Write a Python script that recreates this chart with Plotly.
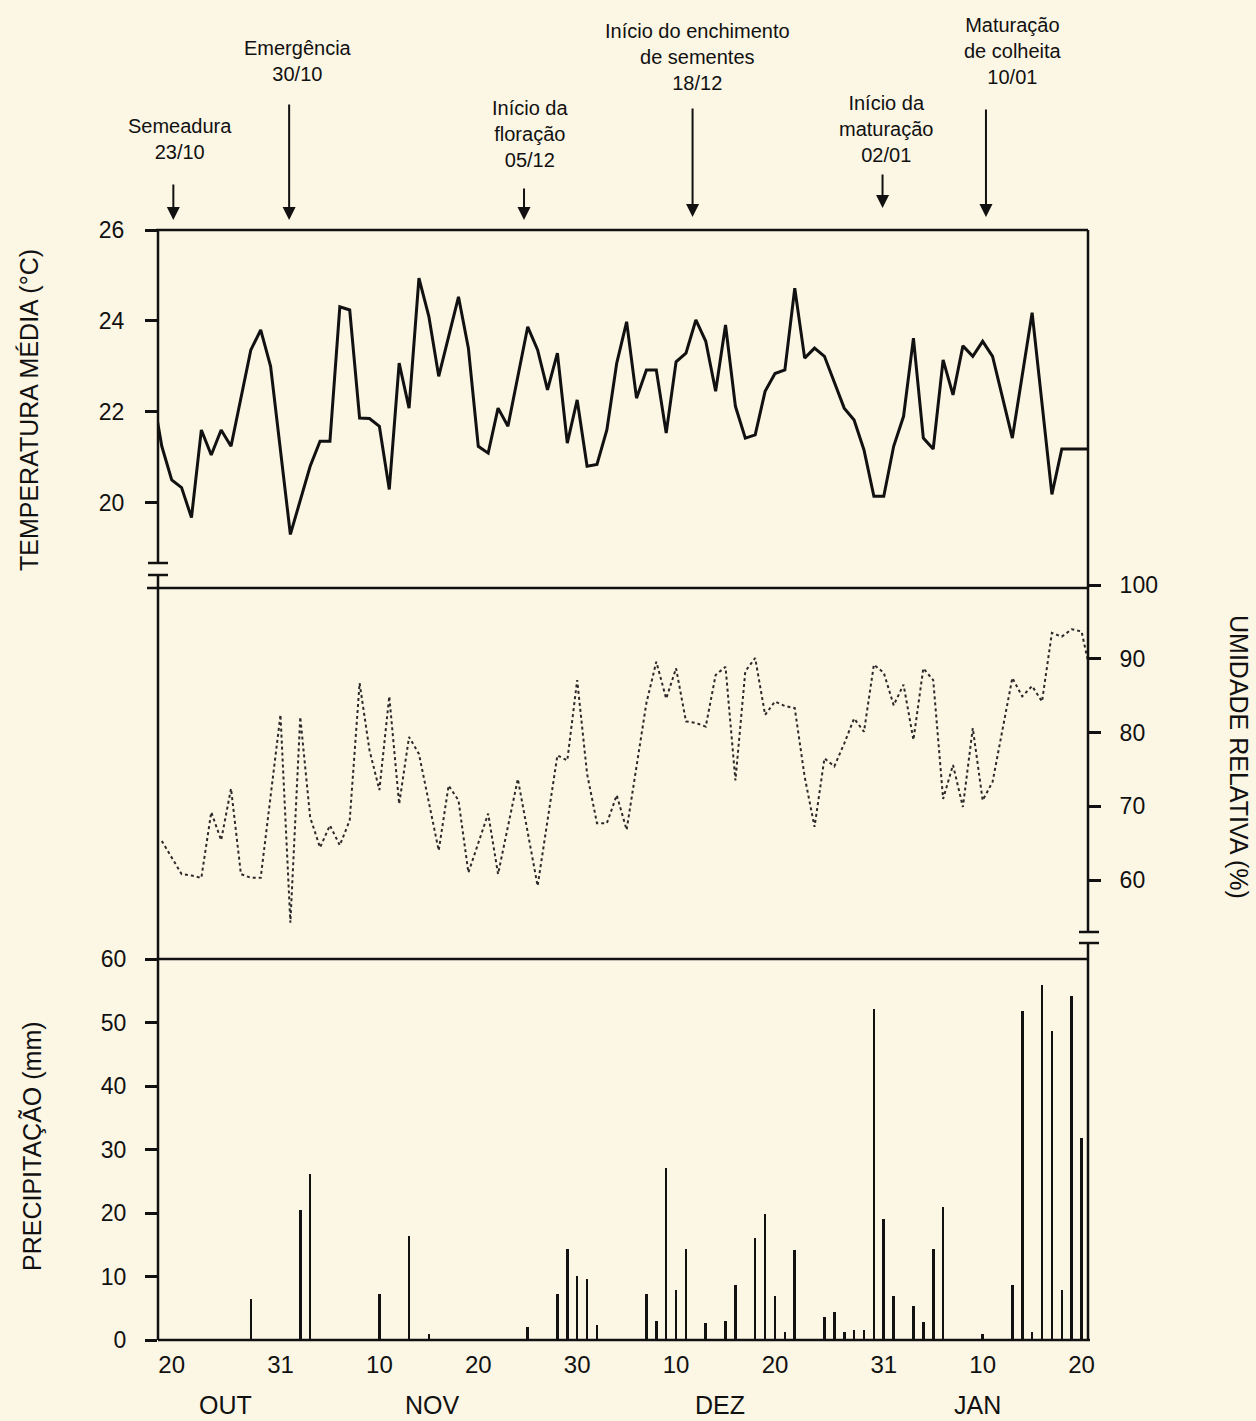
import plotly.graph_objects as go

W, H = 1256, 1421
FONT = "Liberation Sans, Arial, Helvetica, sans-serif"
BG = "#FCF6E4"

# ---------------- data ----------------
temp_dates = ["1996-10-18", "1996-10-19", "1996-10-20", "1996-10-21", "1996-10-22", "1996-10-23",
              "1996-10-24", "1996-10-25", "1996-10-26", "1996-10-28", "1996-10-29", "1996-10-30",
              "1996-11-01", "1996-11-03", "1996-11-04", "1996-11-05", "1996-11-06", "1996-11-07",
              "1996-11-08", "1996-11-09", "1996-11-10", "1996-11-11", "1996-11-12", "1996-11-13",
              "1996-11-14", "1996-11-15", "1996-11-16", "1996-11-18", "1996-11-19", "1996-11-20",
              "1996-11-21", "1996-11-22", "1996-11-23", "1996-11-25", "1996-11-26", "1996-11-27",
              "1996-11-28", "1996-11-29", "1996-11-30", "1996-12-01", "1996-12-02", "1996-12-03",
              "1996-12-04", "1996-12-05", "1996-12-06", "1996-12-07", "1996-12-08", "1996-12-09",
              "1996-12-10", "1996-12-11", "1996-12-12", "1996-12-13", "1996-12-14", "1996-12-15",
              "1996-12-16", "1996-12-17", "1996-12-18", "1996-12-19", "1996-12-20", "1996-12-21",
              "1996-12-22", "1996-12-23", "1996-12-24", "1996-12-25", "1996-12-27", "1996-12-28",
              "1996-12-29", "1996-12-30", "1996-12-31", "1997-01-01", "1997-01-02", "1997-01-03",
              "1997-01-04", "1997-01-05", "1997-01-06", "1997-01-07", "1997-01-08", "1997-01-09",
              "1997-01-10", "1997-01-11", "1997-01-13", "1997-01-15", "1997-01-17", "1997-01-18",
              "1997-01-19", "1997-01-20", "1997-01-21"]
temp_values = [22.5, 21.24, 20.5, 20.33, 19.67, 21.6,
               21.05, 21.6, 21.24, 23.36, 23.8, 23.0,
               19.3, 20.8, 21.35, 21.35, 24.31, 24.24,
               21.86, 21.85, 21.68, 20.29, 23.07, 22.08,
               24.94, 24.1, 22.78, 24.53, 23.4, 21.24,
               21.09, 22.08, 21.68, 23.87, 23.36, 22.48,
               23.29, 21.31, 22.26, 20.8, 20.84, 21.6,
               23.07, 23.98, 22.3, 22.92, 22.92, 21.53,
               23.1, 23.29, 24.02, 23.55, 22.45, 23.91,
               22.12, 21.42, 21.49, 22.45, 22.84, 22.92,
               24.72, 23.18, 23.4, 23.22, 22.08, 21.82,
               21.16, 20.14, 20.14, 21.24, 21.9, 23.62,
               21.42, 21.18, 23.14, 22.37, 23.45, 23.22,
               23.55, 23.22, 21.42, 24.18, 20.18, 21.18,
               21.18, 21.18, 21.18]

hum_dates = ["1996-10-19", "1996-10-21", "1996-10-22", "1996-10-23", "1996-10-24", "1996-10-25",
             "1996-10-26", "1996-10-27", "1996-10-28", "1996-10-29", "1996-10-31", "1996-11-01",
             "1996-11-02", "1996-11-03", "1996-11-04", "1996-11-05", "1996-11-06", "1996-11-07",
             "1996-11-08", "1996-11-09", "1996-11-10", "1996-11-11", "1996-11-12", "1996-11-13",
             "1996-11-14", "1996-11-16", "1996-11-17", "1996-11-18", "1996-11-19", "1996-11-21",
             "1996-11-22", "1996-11-24", "1996-11-26", "1996-11-28", "1996-11-29", "1996-11-30",
             "1996-12-01", "1996-12-02", "1996-12-03", "1996-12-04", "1996-12-05", "1996-12-07",
             "1996-12-08", "1996-12-09", "1996-12-10", "1996-12-11", "1996-12-12", "1996-12-13",
             "1996-12-14", "1996-12-15", "1996-12-16", "1996-12-17", "1996-12-18", "1996-12-19",
             "1996-12-20", "1996-12-21", "1996-12-22", "1996-12-23", "1996-12-24", "1996-12-25",
             "1996-12-26", "1996-12-27", "1996-12-28", "1996-12-29", "1996-12-30", "1996-12-31",
             "1997-01-01", "1997-01-02", "1997-01-03", "1997-01-04", "1997-01-05", "1997-01-06",
             "1997-01-07", "1997-01-08", "1997-01-09", "1997-01-10", "1997-01-11", "1997-01-13",
             "1997-01-14", "1997-01-15", "1997-01-16", "1997-01-17", "1997-01-18", "1997-01-19",
             "1997-01-20", "1997-01-21"]
hum_values = [65.3, 60.8, 60.6, 60.3, 69.2, 65.4,
              72.4, 60.8, 60.3, 60.3, 82.4, 54.2,
              82.1, 68.5, 64.4, 67.4, 64.7, 68.1,
              86.7, 77.6, 72.2, 84.9, 70.3, 79.4,
              77.1, 64.0, 72.8, 70.8, 61.0, 69.0,
              60.8, 73.7, 59.2, 76.9, 76.2, 87.1,
              74.4, 67.7, 67.7, 71.5, 66.8, 84.0,
              89.6, 84.6, 88.7, 81.5, 81.3, 80.8,
              87.8, 88.9, 73.5, 88.3, 90.1, 82.4,
              84.2, 83.6, 83.3, 74.0, 67.2, 76.5,
              75.4, 78.5, 81.9, 80.1, 89.2, 88.1,
              83.7, 86.5, 79.0, 88.7, 87.1, 71.0,
              75.6, 69.9, 80.6, 70.8, 73.3, 87.4,
              84.9, 86.3, 84.2, 93.5, 93.0, 94.0,
              93.7, 87.5]

rain_dates = ["1996-10-28", "1996-11-02", "1996-11-03", "1996-11-10", "1996-11-13", "1996-11-15",
              "1996-11-25", "1996-11-28", "1996-11-29", "1996-11-30", "1996-12-01", "1996-12-02",
              "1996-12-07", "1996-12-08", "1996-12-09", "1996-12-10", "1996-12-11", "1996-12-13",
              "1996-12-15", "1996-12-16", "1996-12-18", "1996-12-19", "1996-12-20", "1996-12-21",
              "1996-12-22", "1996-12-25", "1996-12-26", "1996-12-27", "1996-12-28", "1996-12-29",
              "1996-12-30", "1996-12-31", "1997-01-01", "1997-01-03", "1997-01-04", "1997-01-05",
              "1997-01-06", "1997-01-10", "1997-01-13", "1997-01-14", "1997-01-15", "1997-01-16",
              "1997-01-17", "1997-01-18", "1997-01-19", "1997-01-20"]
rain_values = [6.4, 20.4, 26.1, 7.2, 16.4, 1.0,
               2.1, 7.2, 14.4, 10.1, 9.6, 2.3,
               7.3, 3.0, 27.1, 7.9, 14.3, 2.6,
               3.0, 8.6, 16.0, 19.9, 6.9, 1.2,
               14.1, 3.7, 4.4, 1.3, 1.6, 1.6,
               52.2, 19.0, 7.0, 5.4, 2.8, 14.4,
               20.9, 1.0, 8.7, 51.8, 1.3, 55.9,
               48.7, 7.9, 54.2, 31.8]

x_tick_dates = ["1996-10-20", "1996-10-31", "1996-11-10", "1996-11-20", "1996-11-30",
                "1996-12-10", "1996-12-20", "1996-12-31", "1997-01-10", "1997-01-20"]
x_tick_labels = ["20", "31", "10", "20", "30", "10", "20", "31", "10", "20"]
month_labels = ["OUT", "NOV", "DEZ", "JAN"]

temp_ticks = [20, 22, 24, 26]
hum_ticks = [60, 70, 80, 90, 100]
rain_ticks = [0, 10, 20, 30, 40, 50, 60]

stage_names = ["Semeadura", "Emergência", "Início da<br>floração", "Início do enchimento<br>de sementes",
               "Início da<br>maturação", "Maturação<br>de colheita"]
stage_dates = ["23/10", "30/10", "05/12", "18/12", "02/01", "10/01"]

# ---------------- layout helpers (pixel -> paper) ----------------
def px(x):
    return x / W

def py(y):
    return 1 - y / H

L, R = 158, 1088
T_TOP, SEP1, SEP2, BOT = 230, 588, 959, 1340

fig = go.Figure()
fig.add_trace(go.Scatter(x=temp_dates, y=temp_values, mode="lines",
                         line=dict(color="#111111", width=3), xaxis="x", yaxis="y",
                         hoverinfo="skip"))
fig.add_trace(go.Scatter(x=hum_dates, y=hum_values, mode="lines",
                         line=dict(color="#2a2a2a", width=2, dash="dot"), xaxis="x", yaxis="y2",
                         hoverinfo="skip"))
fig.add_trace(go.Bar(x=rain_dates, y=rain_values, width=0.26 * 86400000,
                     marker=dict(color="#111111", line=dict(width=0)), xaxis="x", yaxis="y3",
                     hoverinfo="skip"))

axis_common = dict(showgrid=False, zeroline=False, showline=False, ticks="outside",
                   ticklen=12, tickwidth=2.5, tickcolor="#111111", automargin=False,
                   tickfont=dict(family=FONT, size=23, color="#111111"))

fig.update_layout(
    template="none",
    width=W, height=H, autosize=False, margin=dict(l=0, r=0, t=0, b=0, pad=0),
    paper_bgcolor=BG, plot_bgcolor=BG, showlegend=False, bargap=0,
    xaxis=dict(domain=[px(L), px(R)], anchor="y3", type="date",
               range=["1996-10-18 14:46", "1997-01-20 15:36"],
               tickmode="array", tickvals=x_tick_dates, ticktext=x_tick_labels,
               ticks="", showgrid=False, zeroline=False, showline=False,
               ticklabelstandoff=8, automargin=False,
               tickfont=dict(family=FONT, size=24, color="#111111")),
    yaxis=dict(domain=[py(SEP1), py(T_TOP)], anchor="x", range=[26 - (SEP1 - T_TOP) / 45.44, 26],
               tickmode="array", tickvals=temp_ticks, ticklabelstandoff=16, **axis_common),
    yaxis2=dict(domain=[py(SEP2), py(585)], anchor="x", side="right",
                range=[100 - (SEP2 - 585) / 7.375, 100],
                tickmode="array", tickvals=hum_ticks, ticklabelstandoff=14, **axis_common),
    yaxis3=dict(domain=[py(BOT), py(SEP2)], anchor="x", range=[0, 60],
                tickmode="array", tickvals=rain_ticks, ticklabelstandoff=14, **axis_common),
)

# frame lines
line_style = dict(color="#111111", width=2.5)
segments = [
    (L - 2, T_TOP, R, T_TOP),        # top
    (147, SEP1, R, SEP1),            # separator temp / humidity
    (L, SEP2, R, SEP2),              # separator humidity / rain
    (L, BOT, R + 2, BOT),            # bottom
    (L, T_TOP, L, 563),              # left upper
    (L, 575, L, BOT),                # left lower
    (R, T_TOP, R, 932),              # right upper
    (R, 943, R, BOT),                # right lower
    (148, 563, 168, 563), (148, 575, 168, 575),      # left break
    (1079, 932, 1099, 932), (1079, 943, 1099, 943),  # right break
]
for x0, y0, x1, y1 in segments:
    fig.add_shape(type="line", xref="paper", yref="paper",
                  x0=px(x0), y0=py(y0), x1=px(x1), y1=py(y1), line=line_style)

# axis titles
title_font = dict(family=FONT, size=25, color="#111111")
fig.add_annotation(text="TEMPERATURA MÉDIA (°C)", xref="paper", yref="paper",
                   x=px(29), y=py(410), textangle=-90, showarrow=False,
                   xanchor="center", yanchor="middle", font=title_font)
fig.add_annotation(text="PRECIPITAÇÃO (mm)", xref="paper", yref="paper",
                   x=px(32), y=py(1146), textangle=-90, showarrow=False,
                   xanchor="center", yanchor="middle", font=title_font)
fig.add_annotation(text="UMIDADE RELATIVA (%)", xref="paper", yref="paper",
                   x=px(1239), y=py(757), textangle=90, showarrow=False,
                   xanchor="center", yanchor="middle", font=title_font)

# month labels
month_x = [226, 432, 720, 977]
for m, mx in zip(month_labels, month_x):
    fig.add_annotation(text=m, xref="paper", yref="paper", x=px(mx), y=py(1405),
                       xanchor="center", yanchor="middle",
                       showarrow=False, font=dict(family=FONT, size=25, color="#111111"))

# phenological stage labels and arrows
text_pos = [(180, 139), (298, 61), (530, 134), (697, 57), (886, 129), (1013, 51)]
arrow_x = ["1996-10-20 04:00", "1996-10-31 21:00", "1996-11-24 15:00",
           "1996-12-11 16:00", "1996-12-30 21:00", "1997-01-10 08:00"]
arrow_head = [220, 220, 220, 217, 208, 217]
arrow_tail = [183, 103, 187, 107, 173, 108]
for name, d, (tx, ty), ax_, hy, ty_ in zip(stage_names, stage_dates, text_pos,
                                            arrow_x, arrow_head, arrow_tail):
    fig.add_annotation(text=f"{name}<br>{d}", xref="paper", yref="paper",
                       x=px(tx), y=py(ty), showarrow=False, align="center",
                       xanchor="center", yanchor="middle",
                       font=dict(family=FONT, size=20, color="#111111"))
    fig.add_annotation(text="", xref="x", yref="paper", x=ax_, y=py(hy),
                       ax=0, ay=ty_ - hy, showarrow=True, arrowhead=2,
                       arrowsize=1.3, arrowwidth=2, arrowcolor="#111111")

fig.write_html(
    "out.html",
    config={"responsive": False, "displayModeBar": False},
    post_script="document.body.style.margin='0';document.body.style.padding='0';"
                "document.documentElement.style.overflow='hidden';",
)
